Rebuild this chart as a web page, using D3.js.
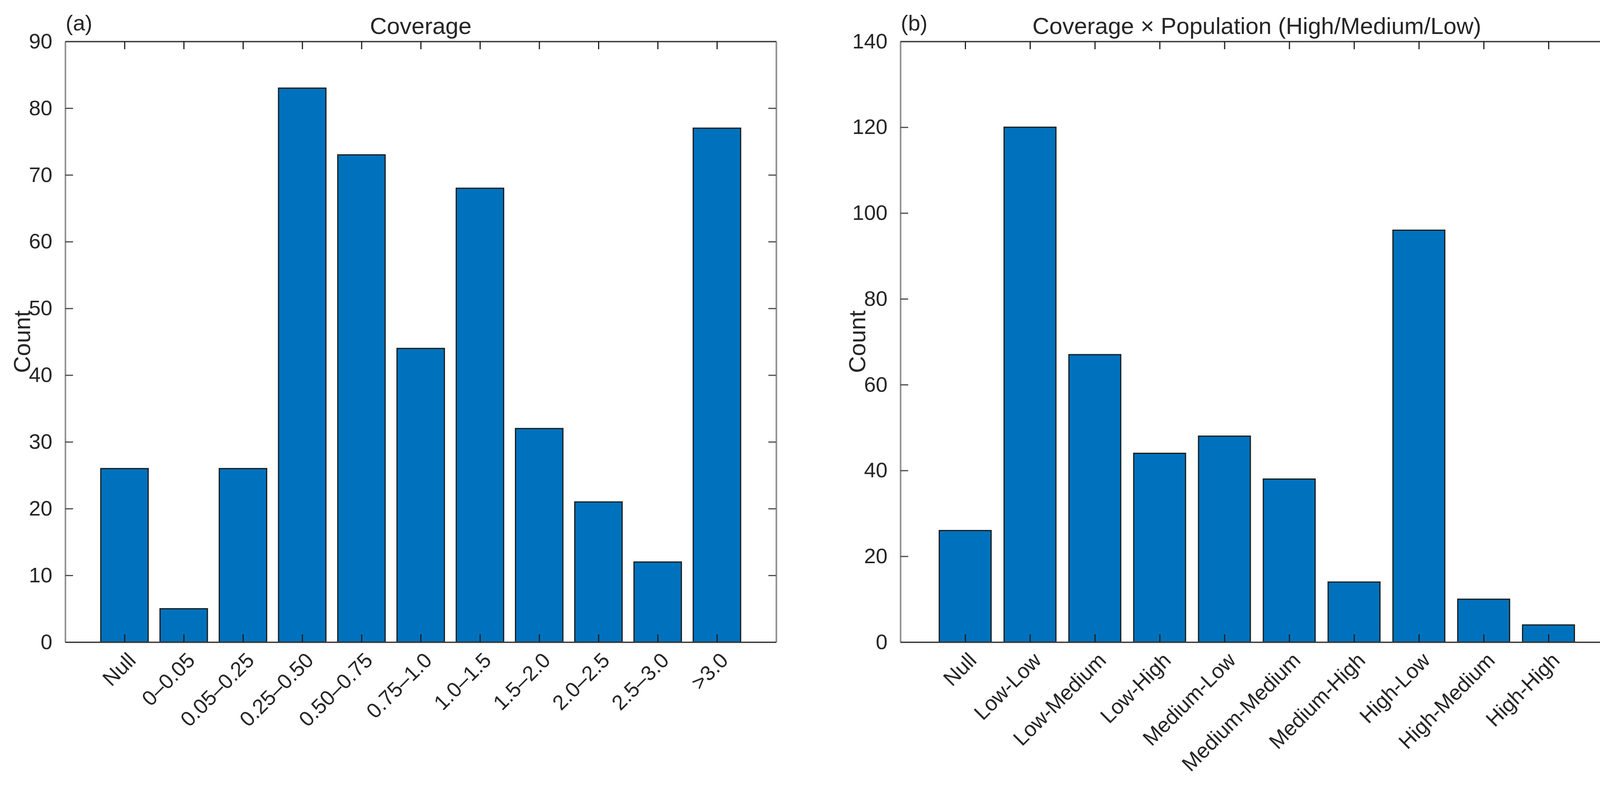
<!DOCTYPE html>
<html>
<head>
<meta charset="utf-8">
<script src="https://cdn.jsdelivr.net/npm/d3@7"></script>
<style>
  html, body { margin: 0; padding: 0; background: #fff; overflow: hidden; }
  svg { display: block; }
  text { font-family: "Liberation Sans", Arial, Helvetica, sans-serif; fill: #262626; }
</style>
</head>
<body>
<script>
// ---- Data ----
const categoriesA = ["Null", "0\u20130.05", "0.05\u20130.25", "0.25\u20130.50", "0.50\u20130.75", "0.75\u20131.0", "1.0\u20131.5", "1.5\u20132.0", "2.0\u20132.5", "2.5\u20133.0", ">3.0"];
const countsA = [26, 5, 26, 83, 73, 44, 68, 32, 21, 12, 77];
const yTicksA = [0, 10, 20, 30, 40, 50, 60, 70, 80, 90];

const categoriesB = ["Null", "Low-Low", "Low-Medium", "Low-High", "Medium-Low", "Medium-Medium", "Medium-High", "High-Low", "High-Medium", "High-High"];
const countsB = [26, 120, 67, 44, 48, 38, 14, 96, 10, 4];
const yTicksB = [0, 20, 40, 60, 80, 100, 120, 140];

const titleA = "Coverage";
const titleB = "Coverage \u00d7 Population (High/Medium/Low)";
const yLabel = "Count";

// ---- Drawing ----
const W = 4164, H = 2015;
const svg = d3.select("body").append("svg").attr("width", W).attr("height", H);

function panel(opts) {
  const { left, right, top, bottom, cats, vals, yTicks, yMax, title, tag } = opts;
  const g = svg.append("g");
  const n = cats.length;
  const x = d3.scaleLinear().domain([0, n + 1]).range([left, right]);
  const y = d3.scaleLinear().domain([0, yMax]).range([bottom, top]);
  const bw = x(0.8) - x(0);

  // bars
  g.selectAll("rect.bar").data(vals).enter().append("rect")
    .attr("class", "bar")
    .attr("x", (d, i) => x(i + 1) - bw / 2)
    .attr("y", d => y(d))
    .attr("width", bw)
    .attr("height", d => y(0) - y(d))
    .attr("fill", "#0072BD")
    .attr("stroke", "#1a1a1a")
    .attr("stroke-width", 3);

  const tickLen = 20;
  const idx = d3.range(1, n + 1);

  // y axes (left + right, ticks inward)
  const yL = d3.axisLeft(y).tickValues(yTicks).tickSizeInner(-tickLen).tickSizeOuter(0).tickPadding(13 + tickLen);
  const gyl = g.append("g").attr("transform", `translate(${left},0)`).call(yL);
  gyl.selectAll("text").style("font-size", "54px").attr("fill", "#262626");
  const yR = d3.axisRight(y).tickValues(yTicks).tickSizeInner(-tickLen).tickSizeOuter(0).tickFormat("");
  const gyr = g.append("g").attr("transform", `translate(${right},0)`).call(yR);

  // x axes (bottom + top, ticks inward)
  const xB = d3.axisBottom(x).tickValues(idx).tickSizeInner(-tickLen).tickSizeOuter(0).tickFormat("");
  const gxb = g.append("g").attr("transform", `translate(0,${bottom})`).call(xB);
  const xT = d3.axisTop(x).tickValues(idx).tickSizeInner(-tickLen).tickSizeOuter(0).tickFormat("");
  const gxt = g.append("g").attr("transform", `translate(0,${top})`).call(xT);

  [gyl, gyr].forEach(a => {
    a.select("path.domain").attr("stroke", "#8f8f8f").attr("stroke-width", 4);
    a.selectAll(".tick line").attr("stroke", "#4a4a4a").attr("stroke-width", 3);
  });
  [gxb, gxt].forEach(a => {
    a.select("path.domain").attr("stroke", "#3a3a3a").attr("stroke-width", 3.5);
    a.selectAll(".tick line").attr("stroke", "#1f1f1f").attr("stroke-width", 3);
  });

  // rotated category labels
  g.selectAll("text.xlab").data(cats).enter().append("text")
    .attr("class", "xlab")
    .attr("transform", (d, i) => `translate(${x(i + 1) + 32},${bottom + 50}) rotate(-45)`)
    .attr("text-anchor", "end")
    .style("font-size", "54px")
    .text(d => d);

  // y label
  g.append("text")
    .attr("transform", `translate(${left - 112},${(top + bottom) / 2}) rotate(-90)`)
    .attr("text-anchor", "middle")
    .attr("dy", "0.36em")
    .style("font-size", "60px")
    .text(yLabel);

  // title
  g.append("text")
    .attr("x", (left + right) / 2)
    .attr("y", 87)
    .attr("text-anchor", "middle")
    .style("font-size", "60px")
    .text(title);

  // panel tag
  g.append("text")
    .attr("x", left + 1)
    .attr("y", 78)
    .style("font-size", "56px")
    .text(tag);
}

panel({ left: 167, right: 1987, top: 106, bottom: 1644, cats: categoriesA, vals: countsA, yTicks: yTicksA, yMax: 90, title: titleA, tag: "(a)" });
panel({ left: 2305, right: 4130, top: 106, bottom: 1644, cats: categoriesB, vals: countsB, yTicks: yTicksB, yMax: 140, title: titleB, tag: "(b)" });
</script>
</body>
</html>
